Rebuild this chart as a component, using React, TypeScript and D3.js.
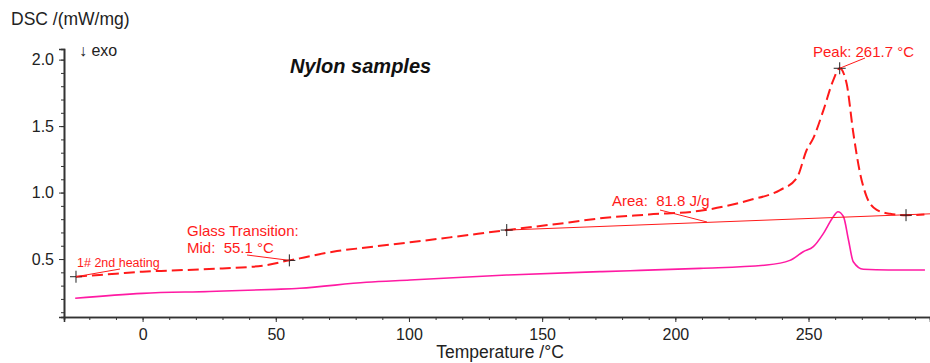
import React, { useEffect, useRef } from 'react';
import * as d3 from 'd3';

// DSC curve (dashed red), temperature in °C, signal in mW/mg
const dscTemp = [-25, -10, 0, 10, 25, 45, 55.1, 59, 71.5, 84, 100.4, 115.4, 136.7, 160, 171.7, 190, 209.3, 228, 239.3, 245.6, 249.3, 251.8, 255.6, 259.3, 261.7, 264.3, 266.8, 269.3, 271.8, 275.6, 280.6, 286.6, 293.5];
const dscValue = [0.367, 0.39, 0.405, 0.413, 0.425, 0.45, 0.49, 0.505, 0.555, 0.587, 0.626, 0.663, 0.718, 0.775, 0.806, 0.835, 0.863, 0.944, 1.019, 1.11, 1.32, 1.41, 1.62, 1.846, 1.935, 1.82, 1.45, 1.15, 0.97, 0.87, 0.84, 0.83, 0.835];

// second sample (solid magenta)
const magTemp = [-25.3, 0, 25, 50, 59, 84, 100.4, 136.7, 171.7, 183, 209.3, 234.3, 243, 248, 251.8, 255.6, 259.3, 261, 263.1, 265, 266.8, 270.6, 280, 293.7];
const magValue = [0.205, 0.242, 0.256, 0.272, 0.28, 0.325, 0.342, 0.38, 0.405, 0.412, 0.43, 0.455, 0.49, 0.555, 0.593, 0.693, 0.818, 0.856, 0.82, 0.643, 0.48, 0.423, 0.417, 0.417];

// integration baseline
const baseTemp = [136.7, 295.6];
const baseValue = [0.718, 0.84];

// marked points
const markTemp = [-25, 55.1, 136.7, 261.7, 286.6];
const markValue = [0.367, 0.49, 0.718, 1.935, 0.83];

const xMajor = [0, 50, 100, 150, 200, 250];
const yMajor = [0.5, 1.0, 1.5, 2.0];

const W = 930;
const H = 363;
const font = 'Liberation Sans, Arial, sans-serif';

const x = d3.scaleLinear().domain([-29.5, 295.6]).range([64, 930]);
const y = d3.scaleLinear().domain([0.064, 2.08]).range([317, 49]);

export default function App() {
  const xRef = useRef<SVGGElement>(null);
  const yRef = useRef<SVGGElement>(null);

  useEffect(() => {
    const gx = d3.select(xRef.current);
    gx.selectAll('*').remove();
    gx.append('g').call(d3.axisBottom(x).tickValues(d3.range(-20, 300, 10)).tickSize(3).tickFormat(() => ''));
    gx.append('g').call(d3.axisBottom(x).tickValues(xMajor).tickSize(5).tickPadding(7).tickFormat(d3.format('d')));
    gx.selectAll('.domain').attr('stroke', '#333').attr('stroke-width', 1.6);
    gx.selectAll('line').attr('stroke', '#333');
    gx.selectAll('text').attr('font-size', 16).attr('font-family', font).attr('fill', '#222');

    const gy = d3.select(yRef.current);
    gy.selectAll('*').remove();
    gy.append('g').call(d3.axisLeft(y).tickValues(d3.range(0.1, 2.05, 0.1)).tickSize(3).tickFormat(() => ''));
    gy.append('g').call(d3.axisLeft(y).tickValues(yMajor).tickSize(5).tickPadding(5).tickFormat(d3.format('.1f')));
    gy.selectAll('.domain').attr('stroke', '#333').attr('stroke-width', 1.6);
    gy.selectAll('line').attr('stroke', '#333');
    gy.selectAll('text').attr('font-size', 16).attr('font-family', font).attr('fill', '#222');
  }, []);

  const line = d3.line<[number, number]>().x(d => x(d[0])).y(d => y(d[1])).curve(d3.curveMonotoneX);
  const dscPath = line(dscTemp.map((t, i) => [t, dscValue[i]]));
  const magPath = line(magTemp.map((t, i) => [t, magValue[i]]));
  const basePath = d3.line<[number, number]>().x(d => x(d[0])).y(d => y(d[1]))(baseTemp.map((t, i) => [t, baseValue[i]]));

  const red = '#ff1a1a';

  return (
    <svg width={W} height={H} style={{ position: 'absolute', left: 0, top: 0, background: '#fff' }}>
      <text x={11} y={25} fontSize={17.5} fontFamily={font} fill="#222">DSC /(mW/mg)</text>
      <text x={79} y={56} fontSize={16} fontFamily={font} fill="#222">↓ exo</text>
      <text x={290} y={73} fontSize={20} fontFamily={font} fontWeight="bold" fontStyle="italic" fill="#111">Nylon samples</text>

      <path d={magPath ?? ''} fill="none" stroke="#ff1aa3" strokeWidth={1.6} />
      <path d={basePath ?? ''} fill="none" stroke={red} strokeWidth={1} />
      <path d={dscPath ?? ''} fill="none" stroke={red} strokeWidth={2} strokeDasharray="11,5" />

      {markTemp.map((t, i) => (
        <g key={i} stroke="#222" strokeWidth={1}>
          <line x1={x(t) - 6} x2={x(t) + 6} y1={y(markValue[i])} y2={y(markValue[i])} />
          <line x1={x(t)} x2={x(t)} y1={y(markValue[i]) - 6} y2={y(markValue[i]) + 6} />
        </g>
      ))}

      {/* annotations */}
      <g fill={red} fontFamily={font}>
        <text x={77} y={267} fontSize={12.5}>1# 2nd heating</text>
        <text x={187} y={236} fontSize={15}>Glass Transition:</text>
        <text x={187} y={253} fontSize={15}>{'Mid:\u00a0 55.1 °C'}</text>
        <text x={612} y={206} fontSize={15}>{'Area:\u00a0 81.8 J/g'}</text>
        <text x={813} y={57} fontSize={15}>Peak: 261.7 °C</text>
      </g>
      <g stroke={red} strokeWidth={1}>
        <line x1={x(markTemp[0])} y1={y(markValue[0])} x2={120} y2={269} />
        <line x1={247} y1={255} x2={x(markTemp[1])} y2={y(markValue[1])} />
        <line x1={660} y1={210} x2={707} y2={222} />
        <line x1={865} y1={58} x2={x(markTemp[3])} y2={y(markValue[3])} />
      </g>

      <g ref={xRef} transform="translate(0,317)" />
      <g ref={yRef} transform="translate(64,0)" />
      <text x={500} y={358} textAnchor="middle" fontSize={17.5} fontFamily={font} fill="#222">Temperature /°C</text>
    </svg>
  );
}
